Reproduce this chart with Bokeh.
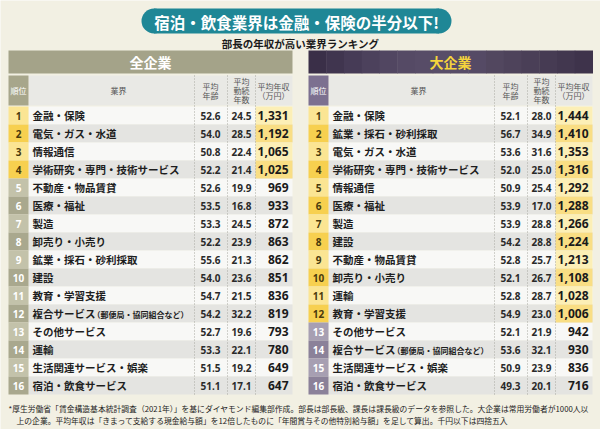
from bokeh.plotting import figure
from bokeh.models import Range1d
from bokeh.core.properties import value
from bokeh.embed import file_html
from bokeh.resources import INLINE

# ---------------- data ----------------
title = "宿泊・飲食業界は金融・保険の半分以下!"
subtitle = "部長の年収が高い業界ランキング"
panel_titles = ["全企業", "大企業"]
col_heads = ["順位", "業界", "平均\n年齢", "平均\n勤続\n年数", "平均年収\n（万円）"]

all_names = ["金融・保険", "電気・ガス・水道", "情報通信", "学術研究・専門・技術サービス",
             "不動産・物品賃貸", "医療・福祉", "製造", "卸売り・小売り",
             "鉱業・採石・砂利採取", "建設", "教育・学習支援", "複合サービス（郵便局・協同組合など）",
             "その他サービス", "運輸", "生活関連サービス・娯楽", "宿泊・飲食サービス"]
all_age = [52.6, 54.0, 50.8, 52.2, 52.6, 53.5, 53.3, 52.2, 55.6, 54.0, 54.7, 54.2, 52.7, 53.3, 51.5, 51.1]
all_tenure = [24.5, 28.5, 22.4, 21.4, 19.9, 16.8, 24.5, 23.9, 21.3, 23.6, 21.5, 32.2, 19.6, 22.1, 19.2, 17.1]
all_income = [1331, 1192, 1065, 1025, 969, 933, 872, 863, 862, 851, 836, 819, 793, 780, 649, 647]

big_names = ["金融・保険", "鉱業・採石・砂利採取", "電気・ガス・水道", "学術研究・専門・技術サービス",
             "情報通信", "医療・福祉", "製造", "建設",
             "不動産・物品賃貸", "卸売り・小売り", "運輸", "教育・学習支援",
             "その他サービス", "複合サービス（郵便局・協同組合など）", "生活関連サービス・娯楽", "宿泊・飲食サービス"]
big_age = [52.1, 56.7, 53.6, 52.0, 50.9, 53.9, 53.9, 54.2, 52.8, 52.1, 52.8, 54.9, 52.1, 53.6, 50.9, 49.3]
big_tenure = [28.0, 34.9, 31.6, 25.0, 25.4, 17.0, 28.8, 28.8, 25.7, 26.7, 28.7, 23.0, 21.9, 32.1, 23.9, 20.1]
big_income = [1444, 1410, 1353, 1316, 1292, 1288, 1266, 1224, 1213, 1108, 1028, 1006, 942, 930, 836, 716]

footnote = ["*厚生労働省「賃金構造基本統計調査（2021年）」を基にダイヤモンド編集部作成。部長は部長級、課長は課長級のデータを参照した。大企業は常用労働者が1000人以",
            "上の企業。平均年収は「きまって支給する現金給与額」を12倍したものに「年間賞与その他特別給与額」を足して算出。千円以下は四捨五入"]

# ---------------- style ----------------
JP = value("Noto Sans CJK JP")
NUM = value("Noto Sans")
BG = "#f2f0e3"

p = figure(width=600, height=429, x_range=Range1d(0, 600), y_range=Range1d(429, 0),
           output_backend="svg", toolbar_location=None, min_border=0)
p.axis.visible = False
p.grid.visible = False
p.outline_line_color = None
p.background_fill_color = BG
p.border_fill_color = BG

# title pill
px0, px1, py0, py1 = 141, 451, 8, 33
r = (py1 - py0) / 2
p.quad(left=[px0 + r], right=[px1 - r], top=[py0], bottom=[py1], fill_color="#1f8796", line_color=None)
p.ellipse(x=[px0 + r, px1 - r], y=[(py0 + py1) / 2] * 2, width=2 * r, height=2 * r,
          fill_color="#1f8796", line_color=None)
p.text(x=[296], y=[(py0 + py1) / 2 + 0.5], text=[title], text_font=JP, text_font_style="bold",
       text_font_size="15.5px", text_color="white", text_align="center", text_baseline="middle")
p.text(x=[300], y=[43], text=[subtitle], text_font=JP, text_font_style="bold",
       text_font_size="10.5px", text_color="#1a1a1a", text_align="center", text_baseline="middle")

ROW0 = 106
RH = 18

def panel(ox, ptitle, names, age, tenure, income, band, head_rank, grey_odd, grey_even, title_color):
    # header band
    if isinstance(band, list):
        n = len(band)
        w = 284 / n
        p.quad(left=[ox + i * w for i in range(n)], right=[ox + (i + 1) * w + 0.5 for i in range(n)],
               top=[50] * n, bottom=[73] * n, fill_color=band, line_color=None)
    else:
        p.quad(left=[ox], right=[ox + 284], top=[50], bottom=[73], fill_color=band, line_color=None)
    p.text(x=[ox + 142], y=[61.5], text=[ptitle], text_font=JP, text_font_style="bold",
           text_font_size="14px", text_color=title_color, text_align="center", text_baseline="middle")
    # header row
    p.quad(left=[ox + 20], right=[ox + 284], top=[75], bottom=[105], fill_color="#e9e9e5", line_color=None)
    p.quad(left=[ox], right=[ox + 20], top=[75], bottom=[105], fill_color=head_rank, line_color=None)
    p.text(x=[ox + 10], y=[90], text=[col_heads[0]], text_font=JP, text_font_size="8px",
           text_color="white", text_align="center", text_baseline="middle")
    p.text(x=[ox + 110], y=[90], text=[col_heads[1]], text_font=JP, text_font_size="8px",
           text_color="#555555", text_align="center", text_baseline="middle")
    for head, cx in zip(col_heads[2:], [ox + 202, ox + 233, ox + 265]):
        lines = head.split("\n")
        n = len(lines)
        ys = [90 + (i - (n - 1) / 2) * 9 for i in range(n)]
        p.text(x=[cx] * n, y=ys, text=lines, text_font=JP, text_font_size="8px",
               text_color="#555555", text_align="center", text_baseline="middle")
    # rows
    k = len(names)
    tops = [ROW0 + RH * i for i in range(k)]
    bots = [t + RH for t in tops]
    cys = [t + RH / 2 for t in tops]
    odd = [(i % 2 == 0) for i in range(k)]
    hi = [v >= 1000 for v in income]
    row_col = ["#f8f8f6" if o else "#e4e4e1" for o in odd]
    p.quad(left=[ox + 20] * k, right=[ox + 284] * k, top=tops, bottom=bots, fill_color=row_col, line_color=None)
    rank_col = [("#fbe593" if o else "#f7d04f") if h else (grey_odd if o else grey_even) for o, h in zip(odd, hi)]
    p.quad(left=[ox] * k, right=[ox + 20] * k, top=tops, bottom=bots, fill_color=rank_col, line_color=None)
    hx = [i for i in range(k) if hi[i]]
    p.quad(left=[ox + 247] * len(hx), right=[ox + 284] * len(hx), top=[tops[i] for i in hx],
           bottom=[bots[i] for i in hx], fill_color=["#fcefb6" if odd[i] else "#f9de84" for i in hx],
           line_color=None)
    # dotted separators
    for sx in [ox + 186, ox + 219, ox + 247]:
        p.segment(x0=[sx], y0=[75], x1=[sx], y1=[bots[-1]], line_color="#a8a8a0", line_width=1, line_dash="1 2")
    # texts
    p.text(x=[ox + 10] * k, y=cys, text=[str(i + 1) for i in range(k)], text_font=NUM, text_font_style="bold",
           text_font_size="10px", text_color=["#4a3a0c" if h else "white" for h in hi],
           text_align="center", text_baseline="middle")
    main, sub, subx, suby = [], [], [], []
    for i, nm in enumerate(names):
        if "（" in nm:
            a, b = nm.split("（", 1)
            main.append(a)
            sub.append("（" + b)
            subx.append(ox + 24 + len(a) * 10.5 - 3)
            suby.append(cys[i] + 0.5)
        else:
            main.append(nm)
    p.text(x=[ox + 24] * k, y=cys, text=main, text_font=JP, text_font_style="bold", text_font_size="10.5px",
           text_color="#1e1e1e", text_align="left", text_baseline="middle")
    if sub:
        p.text(x=subx, y=suby, text=sub, text_font=JP, text_font_style="bold", text_font_size="8px",
               text_color="#1e1e1e", text_align="left", text_baseline="middle")
    p.text(x=[ox + 202] * k, y=cys, text=[f"{v:.1f}" for v in age], text_font=NUM, text_font_style="bold",
           text_font_size="10px", text_color="#2a2a2a", text_align="center", text_baseline="middle")
    p.text(x=[ox + 233] * k, y=cys, text=[f"{v:.1f}" for v in tenure], text_font=NUM, text_font_style="bold",
           text_font_size="10px", text_color="#2a2a2a", text_align="center", text_baseline="middle")
    p.text(x=[ox + 280] * k, y=cys, text=[f"{v:,}" for v in income], text_font=NUM, text_font_style="bold",
           text_font_size="12px", text_color="#1a1a1a", text_align="right", text_baseline="middle")

panel(8, panel_titles[0], all_names, all_age, all_tenure, all_income,
      "#a4a389", "#a7a68b", "#c3c2aa", "#a9a88e", "white")
grad = ["#3a2f48", "#40354f", "#463b56", "#4c415c", "#514661", "#554a65", "#574c67", "#584d68",
        "#574c67", "#554a65", "#52475f", "#4e435b", "#4a3f57", "#463b53", "#42374f", "#3e334b"]
panel(308, panel_titles[1], big_names, big_age, big_tenure, big_income,
      grad, "#7c7090", "#a79fb2", "#8b8199", "#f5d43c")

p.text(x=[8], y=[408], text=[footnote[0]], text_font=JP, text_font_size="7.8px", text_color="#222222",
       text_align="left", text_baseline="middle")
p.text(x=[16], y=[420], text=[footnote[1]], text_font=JP, text_font_size="7.8px", text_color="#222222",
       text_align="left", text_baseline="middle")

open("out.html", "w").write(file_html(p, INLINE))
